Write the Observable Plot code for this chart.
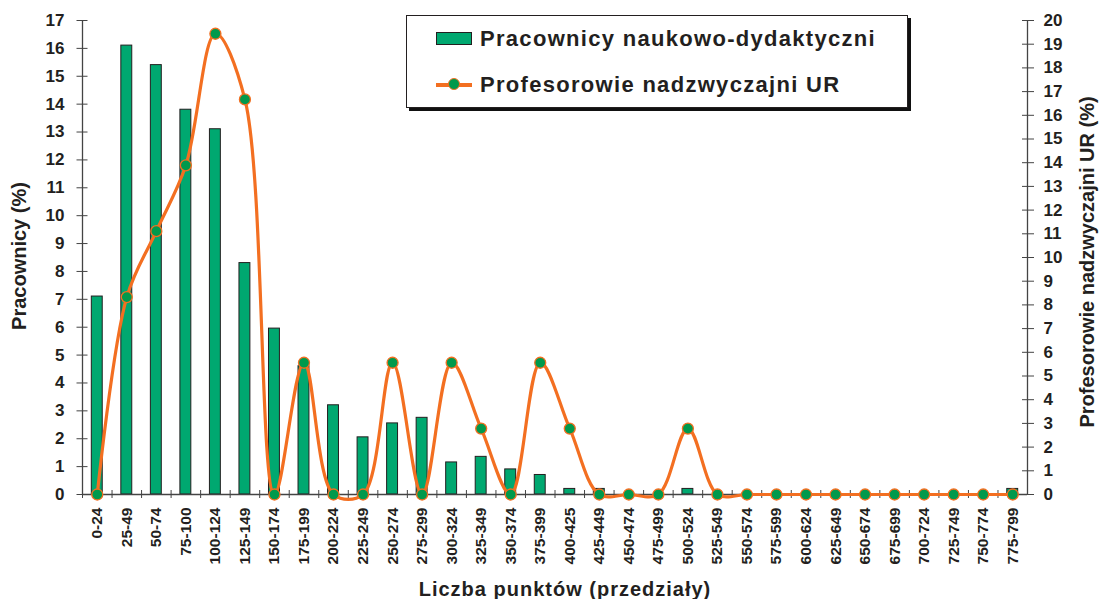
<!DOCTYPE html>
<html><head><meta charset="utf-8">
<script src="https://cdn.jsdelivr.net/npm/d3@7"></script>
<script src="https://cdn.jsdelivr.net/npm/@observablehq/plot@0.6"></script>
<style>
body{margin:0;background:#fff;}
#wrap{position:relative;width:1100px;height:599px;overflow:hidden;font-family:"Liberation Sans",Arial,sans-serif;font-weight:bold;color:#231f20;}
#wrap svg{position:absolute;left:0;top:0;}
.t{position:absolute;white-space:nowrap;line-height:1;}
#legend{position:absolute;left:406px;top:15px;width:502px;height:93px;box-sizing:border-box;border:1.5px solid #231f20;background:#fff;box-shadow:3px 3px 0 #111;}
</style></head><body>
<div id="wrap">
  <div id="legend">
    <div style="position:absolute;left:29px;top:16px;width:36px;height:13px;box-sizing:border-box;background:#00a870;border:1.5px solid #231f20;"></div>
    <div class="t" style="left:73px;top:12px;font-size:22px;letter-spacing:1.3px;">Pracownicy naukowo-dydaktyczni</div>
    <div style="position:absolute;left:29px;top:67px;width:36px;height:3.5px;background:#f36f21;"></div>
    <div style="position:absolute;left:41px;top:62px;width:12px;height:12px;box-sizing:border-box;border-radius:50%;background:#00994c;border:1.5px solid #f36f21;"></div>
    <div class="t" style="left:73px;top:58px;font-size:22px;letter-spacing:1.3px;">Profesorowie nadzwyczajni UR</div>
  </div>
  <div class="t" style="left:365px;width:400px;text-align:center;top:579px;font-size:20px;letter-spacing:1px;">Liczba punktów (przedziały)</div>
  <div class="t" style="left:19px;top:256px;font-size:20px;transform:translate(-50%,-50%) rotate(-90deg);">Pracownicy (%)</div>
  <div class="t" style="left:1087px;top:262px;font-size:20px;transform:translate(-50%,-50%) rotate(-90deg);">Profesorowie nadzwyczajni UR (%)</div>
</div>
<script>
const categories = ["0-24","25-49","50-74","75-100","100-124","125-149","150-174","175-199","200-224","225-249","250-274","275-299","300-324","325-349","350-374","375-399","400-425","425-449","450-474","475-499","500-524","525-549","550-574","575-599","600-624","625-649","650-674","675-699","700-724","725-749","750-774","775-799"];
const staffPct = [7.1,16.1,15.4,13.8,13.1,8.3,5.95,4.6,3.2,2.05,2.55,2.75,1.15,1.35,0.9,0.7,0.2,0.2,0,0,0.2,0,0,0,0,0,0,0,0,0,0,0.2];
const profPct = [0,8.33,11.11,13.89,19.44,16.67,0,5.56,0,0,5.56,0,5.56,2.78,0,5.56,2.78,0,0,0,2.78,0,0,0,0,0,0,0,0,0,0,0];
const leftTicks = d3.range(0, 18);
const rightTicks = d3.range(0, 21);
const LEFT_MAX = 17, RIGHT_MAX = 20;
const toLeft = v => v * LEFT_MAX / RIGHT_MAX;

const W = 1100, H = 599, mL = 82, mR = 73, mT = 20, mB = 105;
const step = (W - mL - mR) / categories.length;
const ink = "#231f20";
const orange = "#f36f21";

const bars = categories.map((c, i) => ({cat: c, v: staffPct[i]}));
const prof = categories.map((c, i) => ({cat: c, v: toLeft(profPct[i])}));

const chart = Plot.plot({
  width: W, height: H,
  marginLeft: mL, marginRight: mR, marginTop: mT, marginBottom: mB,
  style: {fontFamily: '"Liberation Sans", Arial, sans-serif', fontWeight: "bold", fontSize: "17px", color: ink, background: "transparent", overflow: "visible"},
  x: {type: "band", domain: categories, paddingInner: 0.63, paddingOuter: 0.315, round: false},
  y: {domain: [0, LEFT_MAX]},
  marks: [
    Plot.barY(bars, {x: "cat", y: "v", fill: "#00a870", stroke: ink, strokeWidth: 1}),
    Plot.ruleY([0], {stroke: "#444", strokeWidth: 1.3}),
    Plot.ruleX([categories[0]], {x: d => d, dx: -step / 2, stroke: "#444", strokeWidth: 1.3}),
    Plot.ruleX([categories[categories.length - 1]], {x: d => d, dx: step / 2, stroke: "#444", strokeWidth: 1.3}),
    Plot.axisX({ticks: categories, tickSize: 8, dx: -step / 2, dy: -4, tickFormat: () => "", label: null, stroke: "#444"}),
    Plot.text(categories, {x: d => d, y: d => 0, text: d => d, rotate: -90, textAnchor: "end", lineAnchor: "middle", dy: 13, fontSize: 15.5, fontWeight: "bold", fill: ink}),
    Plot.axisY({anchor: "left", ticks: leftTicks, tickSize: 11, dx: 5.5, tickFormat: () => "", label: null, stroke: "#444"}),
    Plot.axisY({anchor: "left", ticks: leftTicks, tickSize: 0, tickPadding: 18, label: null, fontSize: 17, fontWeight: "bold", fill: ink}),
    Plot.axisY({anchor: "right", ticks: rightTicks.map(toLeft), tickSize: 12, dx: -6, tickFormat: () => "", label: null, stroke: "#444"}),
    Plot.axisY({anchor: "right", ticks: rightTicks.map(toLeft), tickSize: 0, tickPadding: 16, tickFormat: d => Math.round(d * RIGHT_MAX / LEFT_MAX), label: null, fontSize: 17, fontWeight: "bold", fill: ink}),
    Plot.line(prof, {x: "cat", y: "v", curve: "catmull-rom", stroke: orange, strokeWidth: 3.2}),
    Plot.dot(prof, {x: "cat", y: "v", r: 5.5, fill: "#00994c", stroke: orange, strokeWidth: 1.3})
  ]
});
const wrap = document.getElementById("wrap");
wrap.insertBefore(chart, wrap.firstChild);
</script>
</body></html>
